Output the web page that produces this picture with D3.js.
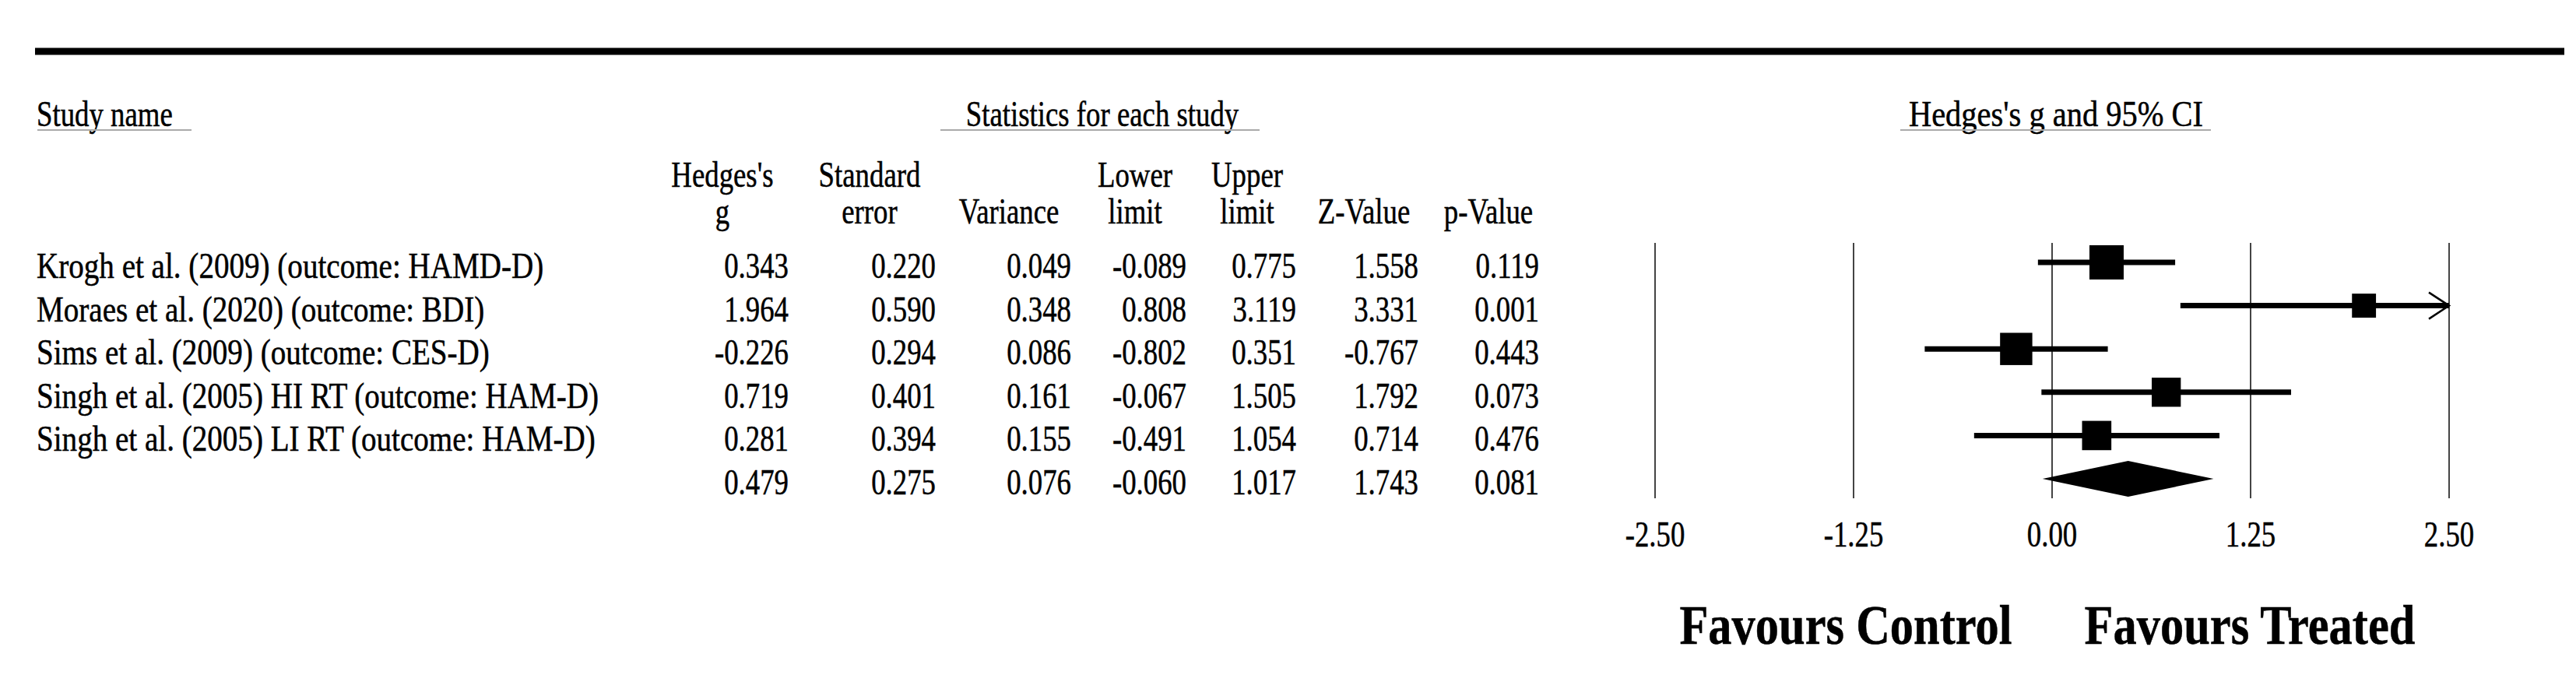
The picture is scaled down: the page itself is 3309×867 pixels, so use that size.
<!DOCTYPE html>
<html>
<head>
<meta charset="utf-8">
<script src="https://cdn.jsdelivr.net/npm/d3@7"></script>
<style>
  html, body { margin: 0; padding: 0; background: #fff; }
  svg { display: block; }
  text { font-family: "Liberation Serif", "Times New Roman", serif; fill: #000; stroke: #000; stroke-width: 0.5px; }
</style>
</head>
<body>
<script>
// ---------------- DATA ----------------
const studies = [
  "Krogh et al. (2009) (outcome: HAMD-D)",
  "Moraes et al. (2020) (outcome: BDI)",
  "Sims et al. (2009) (outcome: CES-D)",
  "Singh et al. (2005) HI RT (outcome: HAM-D)",
  "Singh et al. (2005) LI RT (outcome: HAM-D)"
];
const hedgesG   = [0.343, 1.964, -0.226, 0.719, 0.281];
const stdError  = [0.220, 0.590, 0.294, 0.401, 0.394];
const variance  = [0.049, 0.348, 0.086, 0.161, 0.155];
const lowerLim  = [-0.089, 0.808, -0.802, -0.067, -0.491];
const upperLim  = [0.775, 3.119, 0.351, 1.505, 1.054];
const zValue    = [1.558, 3.331, -0.767, 1.792, 0.714];
const pValue    = [0.119, 0.001, 0.443, 0.073, 0.476];
// pooled (summary) row
const summaryRow = [0.479, 0.275, 0.076, -0.060, 1.017, 1.743, 0.081];
// between-study variance estimate used for the box weights
const tau2 = 0.24;
const axisTicks = [-2.50, -1.25, 0.00, 1.25, 2.50];
const axisTickLabels = ["-2.50", "-1.25", "0.00", "1.25", "2.50"];
const columnHeaders = [
  ["Hedges's", "g"], ["Standard", "error"], ["", "Variance"], ["Lower", "limit"],
  ["Upper", "limit"], ["", "Z-Value"], ["", "p-Value"]
];

// ---------------- LAYOUT ----------------
const W = 3309, H = 867;
const SX = 0.8;           // horizontal squeeze of the text
const FS = 46;            // body font size
const colRight  = [1013, 1202, 1376, 1524, 1665, 1822, 1977];
const colCenter = [928, 1117, 1296, 1458, 1602, 1752, 1912];

const svg = d3.select("body").append("svg")
  .attr("width", W).attr("height", H)
  .attr("viewBox", `0 0 ${W} ${H}`);
svg.append("rect").attr("width", W).attr("height", H).attr("fill", "#fff");

function txt(x, y, s, anchor = "start", size = FS, weight = "normal", sx = SX) {
  return svg.append("text")
    .attr("transform", `translate(${x},${y}) scale(${sx},1)`)
    .attr("text-anchor", anchor)
    .attr("font-size", size)
    .attr("font-weight", weight)
    .text(s);
}

// top rule
svg.append("line").attr("x1", 45).attr("x2", 3294).attr("y1", 66).attr("y2", 66)
  .attr("stroke", "#000").attr("stroke-width", 9);

// section titles with underlines
txt(47, 162, "Study name");
svg.append("line").attr("x1", 48).attr("x2", 246).attr("y1", 167).attr("y2", 167)
  .attr("stroke", "#aaa").attr("stroke-width", 2);
txt(1416, 162, "Statistics for each study", "middle");
svg.append("line").attr("x1", 1208).attr("x2", 1618).attr("y1", 167).attr("y2", 167)
  .attr("stroke", "#aaa").attr("stroke-width", 2);
txt(2641, 162, "Hedges's g and 95% CI", "middle", FS, "normal", 0.88);
svg.append("line").attr("x1", 2441).attr("x2", 2840).attr("y1", 167).attr("y2", 167)
  .attr("stroke", "#aaa").attr("stroke-width", 2);

// column headers
columnHeaders.forEach((h, i) => {
  if (h[0]) txt(colCenter[i], 240, h[0], "middle");
  txt(colCenter[i], 287, h[1], "middle");
});

// scales
const x = d3.scaleLinear().domain([-2.5, 2.5]).range([2126, 3146]);
const y = d3.scaleLinear().domain([0, 5]).range([337, 615]);

// table rows
const rows = studies.map((s, i) => ({
  name: s,
  vals: [hedgesG[i], stdError[i], variance[i], lowerLim[i], upperLim[i], zValue[i], pValue[i]]
}));
rows.push({ name: "", vals: summaryRow });
rows.forEach((r, i) => {
  const by = y(i) + 20;
  if (r.name) txt(47, by, r.name, "start", FS, "normal", 0.85);
  r.vals.forEach((v, j) => txt(colRight[j], by, d3.format(".3f")(v).replace("−", "-"), "end"));
});

// grid / reference lines
const plot = svg.append("g");
plot.selectAll("line.grid").data(axisTicks).join("line")
  .attr("class", "grid")
  .attr("x1", d => x(d)).attr("x2", d => x(d))
  .attr("y1", 312).attr("y2", 640)
  .attr("stroke", "#444").attr("stroke-width", 2);

// axis labels
axisTicks.forEach((t, i) => txt(x(t), 702, axisTickLabels[i], "middle"));

// CI lines
const xmin = x.domain()[0], xmax = x.domain()[1];
const studyData = studies.map((s, i) => ({
  g: hedgesG[i], lo: lowerLim[i], hi: upperLim[i], v: variance[i], i
}));
plot.selectAll("line.ci").data(studyData).join("line")
  .attr("class", "ci")
  .attr("x1", d => x(Math.max(d.lo, xmin)))
  .attr("x2", d => x(Math.min(d.hi, xmax)))
  .attr("y1", d => y(d.i)).attr("y2", d => y(d.i))
  .attr("stroke", "#000").attr("stroke-width", 7);

// arrows for truncated CIs
studyData.filter(d => d.hi > xmax).forEach(d => {
  const tx = x(xmax), ty = y(d.i);
  plot.append("path")
    .attr("d", `M${tx - 26},${ty - 17} L${tx},${ty} L${tx - 26},${ty + 17}`)
    .attr("fill", "none").attr("stroke", "#000").attr("stroke-width", 2.5);
});

// boxes sized by random-effects weight
const weights = variance.map(v => 1 / (v + tau2));
const size = d3.scaleSqrt().domain([0, d3.max(weights)]).range([0, 44]);
plot.selectAll("rect.box").data(studyData).join("rect")
  .attr("class", "box")
  .attr("x", d => x(d.g) - size(weights[d.i]) / 2)
  .attr("y", d => y(d.i) - size(weights[d.i]) / 2)
  .attr("width", d => size(weights[d.i]))
  .attr("height", d => size(weights[d.i]))
  .attr("fill", "#000");

// summary diamond
const sy = y(5), dh = 23;
plot.append("path")
  .attr("d", `M${x(summaryRow[3])},${sy} L${x(summaryRow[0])},${sy - dh} L${x(summaryRow[4])},${sy} L${x(summaryRow[0])},${sy + dh} Z`)
  .attr("fill", "#000");

// favours labels
txt(2371, 827, "Favours Control", "middle", 72, "bold", 0.84);
txt(2890, 827, "Favours Treated", "middle", 72, "bold", 0.84);
</script>
</body>
</html>
